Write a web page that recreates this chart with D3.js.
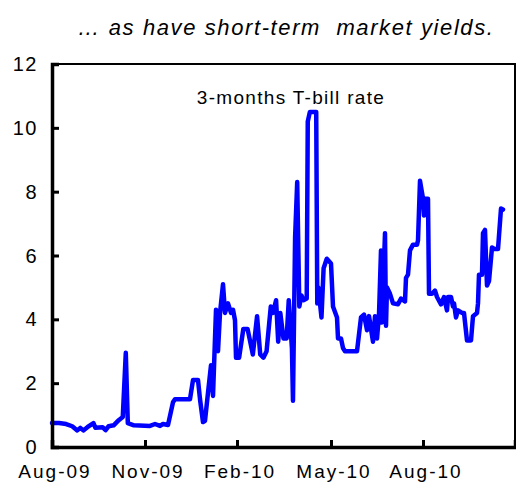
<!DOCTYPE html>
<html><head><meta charset="utf-8">
<script src="https://cdn.jsdelivr.net/npm/d3@7"></script>
<style>
html,body{margin:0;padding:0;background:#fff;}
svg{display:block;font-family:"Liberation Sans",Arial,sans-serif;}
text{white-space:pre;}
</style></head>
<body>
<svg id="c" width="516" height="487"></svg>
<script>
const title = "… as have short-term  market yields.";
const seriesLabel = "3-months T-bill rate";
const tickDates = ["2009-08-01","2009-11-01","2010-02-01","2010-05-01","2010-08-01"];
const tickLabels = ["Aug-09","Nov-09","Feb-10","May-10","Aug-10"];
const yTicks = [0,2,4,6,8,10,12];
const dates = [
"2009-08-01","2009-08-08","2009-08-15","2009-08-21","2009-08-26","2009-08-29","2009-09-01","2009-09-05","2009-09-11","2009-09-13",
"2009-09-20","2009-09-23","2009-09-26","2009-10-01","2009-10-06","2009-10-10","2009-10-13","2009-10-15","2009-10-21",
"2009-11-06","2009-11-11","2009-11-16","2009-11-19","2009-11-24","2009-11-29","2009-12-01","2009-12-16","2009-12-19","2009-12-24",
"2009-12-26","2009-12-29","2009-12-31","2010-01-03","2010-01-06","2010-01-08","2010-01-11","2010-01-13","2010-01-15","2010-01-18",
"2010-01-20","2010-01-23","2010-01-26","2010-01-28","2010-01-30","2010-01-31","2010-02-03","2010-02-07","2010-02-11","2010-02-16",
"2010-02-20","2010-02-23","2010-02-26","2010-03-01","2010-03-05","2010-03-07","2010-03-10","2010-03-12","2010-03-14","2010-03-17",
"2010-03-20","2010-03-22","2010-03-25","2010-03-26","2010-03-28","2010-03-30","2010-04-01","2010-04-03","2010-04-05","2010-04-08",
"2010-04-09","2010-04-11","2010-04-17","2010-04-18","2010-04-19","2010-04-22","2010-04-24","2010-04-27","2010-05-01","2010-05-03",
"2010-05-07","2010-05-08","2010-05-11","2010-05-13","2010-05-15","2010-05-27","2010-05-31","2010-06-03","2010-06-06","2010-06-08",
"2010-06-12","2010-06-14","2010-06-16","2010-06-18","2010-06-20","2010-06-21","2010-06-24","2010-06-25","2010-06-26","2010-06-29",
"2010-07-02","2010-07-07","2010-07-10","2010-07-14","2010-07-15","2010-07-17","2010-07-19","2010-07-22","2010-07-26","2010-07-27",
"2010-07-29","2010-08-01","2010-08-02","2010-08-03","2010-08-06","2010-08-07","2010-08-10","2010-08-13","2010-08-15","2010-08-19",
"2010-08-22","2010-08-25","2010-08-26","2010-08-29","2010-08-31","2010-09-01","2010-09-03","2010-09-05","2010-09-09","2010-09-11",
"2010-09-14","2010-09-18","2010-09-20","2010-09-24","2010-09-25","2010-09-26","2010-09-29","2010-09-30","2010-10-02","2010-10-04",
"2010-10-06","2010-10-09","2010-10-12","2010-10-15","2010-10-18","2010-10-20"];
const values = [
0.75,0.75,0.72,0.65,0.52,0.60,0.52,0.62,0.75,0.60,
0.62,0.53,0.65,0.68,0.84,0.94,2.95,0.75,0.68,
0.66,0.72,0.66,0.72,0.69,1.40,1.50,1.50,2.10,2.10,
1.50,0.78,0.82,1.70,2.56,1.60,4.30,3.00,4.20,5.10,
4.20,4.50,4.20,4.30,3.97,2.80,2.80,3.70,3.70,2.90,
4.10,2.90,2.80,3.00,4.40,4.20,4.60,3.30,4.20,3.40,
3.40,4.60,3.10,1.45,6.56,8.30,4.40,4.75,4.60,4.65,
10.20,10.50,10.50,4.50,5.00,4.06,5.60,5.90,5.75,4.40,
4.06,3.40,3.40,3.10,3.00,3.00,4.06,4.15,3.66,4.10,
3.30,4.10,3.40,4.15,6.16,3.90,6.70,3.80,5.00,4.80,
4.50,4.47,4.65,4.56,5.30,5.40,6.16,6.34,6.34,6.47,
8.34,7.78,7.25,7.78,7.78,4.80,4.80,4.90,4.70,4.47,
4.70,4.28,4.70,4.70,4.40,4.50,4.06,4.28,4.20,4.20,
3.34,3.34,4.10,4.20,4.50,5.40,5.40,6.70,6.80,5.06,
5.20,6.25,6.20,6.20,7.47,7.44];

const parse = d3.utcParse("%Y-%m-%d");
const data = dates.map((d,i)=>({date:parse(d), v:values[i]}));
const svg = d3.select("#c");

const L=52, R=515, T=64, B=447;
// Month-based axis: each quarter gets equal width, as in the original
const x = d3.scaleUtc()
  .domain(["2009-08-01","2009-11-01","2010-02-01","2010-05-01","2010-08-01","2010-11-01"].map(parse))
  .range([L,145,237,331,423,R]);
const y = d3.scaleLinear().domain([0,12]).range([B,T]);

// title
svg.append("text").attr("x",286).attr("y",35).attr("text-anchor","middle")
  .attr("font-size",22).attr("font-style","italic").attr("letter-spacing","1.6px")
  .attr("fill","#000").text(title);

// line
const line = d3.line().x(d=>x(d.date)).y(d=>y(d.v)).curve(d3.curveLinear);
svg.append("path").datum(data).attr("d",line).attr("fill","none")
  .attr("stroke","#0000ff").attr("stroke-width",4.5).attr("stroke-linejoin","round").attr("stroke-linecap","round");

// frame
svg.append("rect").attr("x",L).attr("y",T).attr("width",R-L).attr("height",B-T)
  .attr("fill","none").attr("stroke","#000").attr("stroke-width",2);

// y axis
const yAxis = d3.axisRight(y).tickValues(yTicks).tickSize(7).tickFormat("");
const gy = svg.append("g").attr("transform",`translate(${L},0)`).call(yAxis);
gy.select(".domain").attr("stroke","#000").attr("stroke-width",3.5);
gy.selectAll(".tick line").attr("stroke","#000").attr("stroke-width",3);
svg.append("g").selectAll("text").data(yTicks).join("text")
  .attr("x",38).attr("y",d=>y(d)+7).attr("text-anchor","end")
  .attr("font-size",20).attr("letter-spacing","1.5px").attr("fill","#000").text(d=>d);

// x axis
const tickD = tickDates.map(parse);
const xAxis = d3.axisTop(x).tickValues(tickD).tickSize(7).tickFormat("");
const gx = svg.append("g").attr("transform",`translate(0,${B})`).call(xAxis);
gx.select(".domain").attr("stroke","#000").attr("stroke-width",3.5);
gx.selectAll(".tick line").attr("stroke","#000").attr("stroke-width",3);
svg.append("g").selectAll("text").data(tickD).join("text")
  .attr("x",d=>x(d)+3).attr("y",478).attr("text-anchor","middle")
  .attr("font-size",19).attr("letter-spacing","2px").attr("fill","#000")
  .text((d,i)=>tickLabels[i]);

// series label
svg.append("text").attr("x",291).attr("y",104).attr("text-anchor","middle")
  .attr("font-size",19).attr("letter-spacing","1.3px").attr("fill","#000").text(seriesLabel);
</script>
</body></html>
